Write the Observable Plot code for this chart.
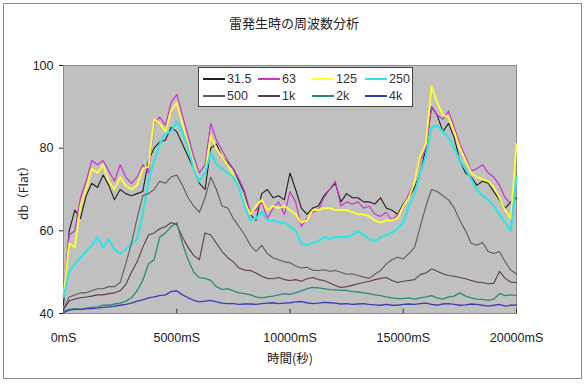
<!DOCTYPE html>
<html>
<head>
<meta charset="utf-8">
<script src="https://cdn.jsdelivr.net/npm/d3@7"></script>
<script src="https://cdn.jsdelivr.net/npm/@observablehq/plot@0.6"></script>
<style>
  html, body { margin: 0; padding: 0; background: #fff; }
  #wrap { position: relative; width: 588px; height: 385px; overflow: hidden;
          font-family: "Liberation Sans", "Noto Sans CJK JP", sans-serif; color: #222; }
  #border { position: absolute; left: 3px; top: 3px; width: 579px; height: 376px;
            border: 1.5px solid #8a8a8a; box-sizing: border-box; }
  #title { position: absolute; left: 0; width: 588px; top: 13px; text-align: center;
           font-size: 13px; font-family: "Noto Sans CJK JP", sans-serif; }
  #ylabel { position: absolute; left: 22px; top: 190px; transform: translate(-50%, -50%) rotate(-90deg);
            font-size: 12px; white-space: nowrap; font-family: "Noto Sans CJK JP", sans-serif; }
  #xlabel { position: absolute; left: 0; width: 580px; top: 348px; text-align: center;
            font-size: 12.5px; font-family: "Noto Sans CJK JP", sans-serif; }
  #legend { position: absolute; left: 198px; top: 67px; width: 215px; height: 40px;
            background: #fff; border: 1px solid #444; box-sizing: border-box; }
  .item { position: absolute; height: 14px; display: flex; align-items: center; font-size: 12.5px; color: #333; }
  .sw { width: 22px; height: 2px; margin-right: 2px; }
  svg { position: absolute; left: 0; top: 0; }
</style>
</head>
<body>
<div id="wrap">
  <div id="border"></div>
  <div id="chart"></div>
  <div id="title">雷発生時の周波数分析</div>
  <div id="ylabel">db（Flat）</div>
  <div id="xlabel">時間(秒)</div>
  <div id="legend"></div>
</div>
<script>
const timeMs = [0,250,500,750,1000,1250,1500,1750,2000,2250,2500,2750,3000,3250,3500,3750,4000,4250,4500,4750,
  5000,5250,5500,5750,6000,6250,6500,6750,7000,7250,7500,7750,8000,8250,8500,8750,9000,9250,9500,9750,
  10000,10250,10500,10750,11000,11250,11500,11750,12000,12250,12500,12750,13000,13250,13500,13750,14000,14250,14500,14750,
  15000,15250,15500,15750,16000,16250,16500,16750,17000,17250,17500,17750,18000,18250,18500,18750,19000,19250,19500,19750,20000];

const s31_5 = [42,60,65,63,68.5,71.5,70.5,73.5,71,67.5,70,69,68.5,69,69.5,77,80,81.5,82,85,
  84,81,78,75,71.5,70,80,81,78,76.5,75,72,69,64,62.5,69,70,68,68.5,67.5,
  74,70,65.5,64,65.5,66,68.5,70,71.5,67,69,68,68,67,67,66.5,68,65.5,65,64,
  66.5,68,70.5,74,80,90,88,84,86,82.5,77,74,73,71,72,71.5,69.5,67.5,65.5,67,68];
const s63 = [45,59,60,68,72,77,76,77,74.5,72,76,73,71.5,73,76,74,86,87.5,85.5,91,
  93,88,83,78,74,76,86,82,79.5,77,75,72.5,69.5,64.5,65,67,63,65.5,67,64,
  69.5,67,61,63,64.5,65,68,70,72,66,67,66.5,67,65.5,66,64,63.5,64.5,62.5,64,
  66,69,72,77,80,90,88,87,89,85,81,78,74.5,75,76,74,73,71,68,66.5,70];
const s125 = [44,57,56,66,70,75,74,76,72,70,73,71,70,71,75,75.5,87,86,84,89,
  91,86,81,76,72,74,83,80,78,76,73.5,70.5,67,64,66,67.5,65,66,65.5,66,
  65,64,62,62.5,65,65,65.5,65.5,65,65,65,64.5,64,64,63.5,62.5,62,62.5,62.5,63,
  66,68,72,78,81,95,91,88,87.5,84,80,77,74,73,72.5,72,70.5,68,65,63,81];
const s250 = [44,50,52,53.5,55,56.5,58.5,56,58,55.5,54.5,55.5,57,58,64,72,77,81,83.5,84,
  86.5,84,80,75,72,74,79,76,75,74,73,70.5,66,62.5,63,64.5,62.5,62.5,62,62,
  61,60,57,56.5,57,57.5,58.5,58,58.5,58.5,58.5,59,60,59,58,57.5,58.5,59,59.5,60.5,
  62,66,69,74,78,85,85.5,84,82.5,80,77,75,72.5,70,68.5,67.5,66,64,62,60,73];
const s500 = [41,44,44.5,45,45,45.5,46,46,46.5,46.5,47.5,52,57,63,68.5,69,70,72,71.5,73,
  73.5,71,68,66,64.5,68,73,70,66,65.5,63,61,59,56.5,55,56.5,54.5,53.5,53,52.5,
  52.3,51.5,51,51.2,50.5,50.4,50.6,50.2,50.4,50,49.5,49.6,49.2,48.8,48.5,49.5,50.4,52,53,53.6,
  53.2,54.5,56,61,66,70,69.5,68.5,67.5,65.5,62.5,60,57,56.5,57.2,55,54.5,55,52.5,50.5,49.5];
const s1k = [41,43,43.5,43.8,44,44.2,44.5,44.5,44.8,45,45.5,47,50,52.5,56,59,59.5,60.5,61,62,
  61.5,58.5,56,54,53,59.5,59,57,55,53.5,52.5,51,50.5,50.4,49.8,49,48.5,48.4,48.7,48.2,
  48,48.2,47.8,48.4,48.7,48.2,48,47.4,46.8,46.3,46.5,46.8,47.2,47.5,47.8,48.2,48.5,48.7,48,47.5,
  47.8,48,48.2,49.4,49.8,50.8,50.2,49.6,49.2,49,48.7,48.4,48,47.6,47.5,47.2,47.3,50.2,48.5,47.6,47.5];
const s2k = [40.5,41,41.2,41,41.3,41.5,41.6,42,42,42.3,42.5,43,43.8,45.5,48,52,53,58.5,59.5,61,
  62,57,53,50,48.7,48.5,48,46.5,45.8,46,45.5,45,44.8,44.5,44,43.8,44,44.2,44.5,44.8,
  44.6,45,45.5,46,46.3,46.2,46,45.8,45.7,45.6,45.6,45.3,45.2,45,44.8,44.5,44.3,44,43.8,43.6,
  43.6,43.8,43.5,43.8,44,44.3,43.8,43.5,44,44.2,45,44.2,43.8,43.5,43.4,43.2,43.5,44.8,44.3,44.5,44.3];
const s4k = [40.2,40.8,41,41,41.1,41.2,41.3,41.5,41.6,41.8,42,42.2,42.5,43,43.3,43.8,44,44.3,44.5,45.3,
  45.5,44.5,43.8,43.2,42.8,43,43.2,42.8,42.5,42.4,42.4,42.2,42.3,42.3,42.2,42.4,42.5,42.6,42.4,42.5,
  42.6,42.8,42.9,42.6,42.4,42.5,42.7,42.6,42.5,42.3,42.4,42.2,42.3,42.4,42.2,42.1,42,42.2,42,42,
  42.2,42.3,42.2,42.4,42.5,42.2,42,42.3,42.4,42.2,42,42.1,42.3,42.2,42,41.8,42,42.2,41.8,42,42.1];

const seriesNames = ["31.5","63","125","250","500","1k","2k","4k"];
const seriesValues = [s31_5, s63, s125, s250, s500, s1k, s2k, s4k];
const seriesColors = ["#1e1e1e","#cc33cc","#ffff33","#33e3e3","#5c5c5c","#5e3c4a","#2b8a78","#3c3cb4"];
const seriesWidths = [1.1, 1.2, 1.8, 2.2, 1.1, 1.1, 1.3, 1.3];

const xTicks = [0, 5000, 10000, 15000, 20000];
const yTicks = [40, 60, 80, 100];

const rows = [];
seriesNames.forEach((name, k) => {
  seriesValues[k].forEach((v, i) => rows.push({series: name, t: timeMs[i], db: v}));
});

const lineMarks = seriesNames.map((name, k) =>
  Plot.line(rows.filter(r => r.series === name), {
    x: "t", y: "db", stroke: seriesColors[k], strokeWidth: seriesWidths[k], strokeLinejoin: "round"
  })
);

const chart = Plot.plot({
  width: 588, height: 385,
  marginLeft: 63, marginRight: 72, marginTop: 65, marginBottom: 72,
  style: {background: "transparent", fontFamily: "'Liberation Sans', sans-serif", fontSize: "12px", color: "#222"},
  x: {domain: [0, 20000]},
  y: {domain: [40, 100]},
  marks: [
    Plot.frame({fill: "#c0c0c0", stroke: "#8c8c8c"}),
    Plot.ruleX(xTicks, {y1: 40, y2: 41, stroke: "#333"}),
    ...lineMarks,
    Plot.axisX({ticks: xTicks, tickFormat: d => d + "mS", tickSize: 0, tickPadding: 20, label: null, fontSize: 12.5}),
    Plot.axisY({ticks: yTicks, tickSize: 4, tickPadding: 6, label: null, fontSize: 12.5})
  ]
});
document.getElementById("chart").appendChild(chart);

const legend = document.getElementById("legend");
const colX = [4, 59, 113, 166];
seriesNames.forEach((name, k) => {
  const row = Math.floor(k / 4), col = k % 4;
  const it = document.createElement("div");
  it.className = "item";
  it.style.left = colX[col] + "px";
  it.style.top = (row === 0 ? 4 : 21) + "px";
  const sw = document.createElement("div");
  sw.className = "sw";
  sw.style.background = seriesColors[k];
  const tx = document.createElement("span");
  tx.textContent = name;
  it.appendChild(sw); it.appendChild(tx);
  legend.appendChild(it);
});
</script>
</body>
</html>
